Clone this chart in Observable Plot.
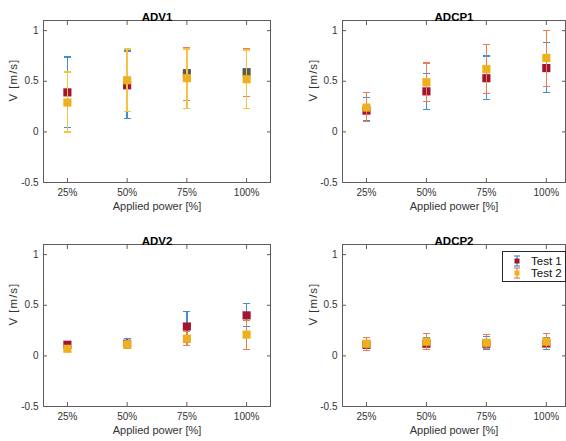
<!DOCTYPE html>
<html><head><meta charset="utf-8">
<script src="https://cdn.jsdelivr.net/npm/d3@7"></script>
<script src="https://cdn.jsdelivr.net/npm/@observablehq/plot@0.6"></script>
<style>
body{margin:0;background:#fff;font-family:"Liberation Sans",Arial,sans-serif;}
#wrap{position:relative;width:566px;height:441px;overflow:hidden;background:#fff;}
.panel{position:absolute;}
#legend{position:absolute;left:502px;top:251px;width:62px;height:29px;border:1px solid #262626;background:#fff;font:11.5px "Liberation Sans",Arial,sans-serif;color:#111;}
#legend .row{position:absolute;left:0;height:13px;display:flex;align-items:center;}
#legend svg{margin-left:10px;margin-right:10px;}
</style></head><body>
<div id="wrap"></div>
<script>
// ---------- data ----------
const power = [25, 50, 75, 100];
const powerLabels = ["25%", "50%", "75%", "100%"];
const yTicks = [-0.5, 0, 0.5, 1];
const yTickLabels = ["-0.5", "0", "0.5", "1"];
const seriesNames = ["Test 1", "Test 2"];

const adv1Test1 = [0.39, 0.46, 0.58, 0.59];
const adv1Test1Low = [0.04, 0.13, 0.31, 0.35];
const adv1Test1High = [0.74, 0.80, 0.83, 0.82];
const adv1Test2 = [0.29, 0.51, 0.53, 0.52];
const adv1Test2Low = [0.00, 0.20, 0.23, 0.23];
const adv1Test2High = [0.59, 0.82, 0.82, 0.81];

const adcp1Test1 = [0.21, 0.40, 0.53, 0.63];
const adcp1Test1Low = [0.11, 0.22, 0.32, 0.39];
const adcp1Test1High = [0.34, 0.58, 0.75, 0.88];
const adcp1Test2 = [0.24, 0.49, 0.62, 0.73];
const adcp1Test2Low = [0.10, 0.30, 0.38, 0.45];
const adcp1Test2High = [0.39, 0.68, 0.86, 1.00];

const adv2Test1 = [0.11, 0.12, 0.29, 0.40];
const adv2Test1Low = [0.08, 0.08, 0.13, 0.29];
const adv2Test1High = [0.14, 0.17, 0.44, 0.52];
const adv2Test2 = [0.07, 0.11, 0.17, 0.21];
const adv2Test2Low = [0.04, 0.07, 0.10, 0.06];
const adv2Test2High = [0.10, 0.15, 0.24, 0.35];

const adcp2Test1 = [0.11, 0.12, 0.12, 0.12];
const adcp2Test1Low = [0.07, 0.09, 0.06, 0.06];
const adcp2Test1High = [0.15, 0.18, 0.19, 0.18];
const adcp2Test2 = [0.12, 0.14, 0.13, 0.14];
const adcp2Test2Low = [0.05, 0.06, 0.07, 0.08];
const adcp2Test2High = [0.18, 0.22, 0.21, 0.22];

// ---------- styles ----------
const BLUE = "#3f8fd2", ORANGE = "#ea7d52", YELLOW_BAR = "#f6c245";
const RED = "#a2142f", YELLOW = "#edb120", GRAY = "#5a5a5a";
const defaultStyle = {
  bar1: () => BLUE, mark1: () => RED,
  bar2: () => ORANGE, mark2: () => YELLOW
};
const adv1Style = {
  bar1: i => i < 2 ? BLUE : ORANGE, mark1: i => i < 2 ? RED : GRAY,
  bar2: () => YELLOW_BAR, mark2: () => YELLOW
};

const panels = [
  {title: "ADV1", left: 0, top: 0, height: 220, mt: 20, mb: 38, ml: 43, mr: 13, xmax: 110, ylabDx: -30, style: adv1Style,
   s: [[adv1Test1, adv1Test1Low, adv1Test1High], [adv1Test2, adv1Test2Low, adv1Test2High]]},
  {title: "ADCP1", left: 283, top: 0, height: 220, mt: 20, mb: 38, ml: 59, mr: 1, xmax: 108, ylabDx: -29, style: defaultStyle,
   s: [[adcp1Test1, adcp1Test1Low, adcp1Test1High], [adcp1Test2, adcp1Test2Low, adcp1Test2High]]},
  {title: "ADV2", left: 0, top: 220, height: 221, mt: 24, mb: 35, ml: 43, mr: 13, xmax: 110, ylabDx: -30, style: defaultStyle,
   s: [[adv2Test1, adv2Test1Low, adv2Test1High], [adv2Test2, adv2Test2Low, adv2Test2High]]},
  {title: "ADCP2", left: 283, top: 220, height: 221, mt: 24, mb: 35, ml: 59, mr: 1, xmax: 108, ylabDx: -29, style: defaultStyle,
   s: [[adcp2Test1, adcp2Test1Low, adcp2Test1High], [adcp2Test2, adcp2Test2Low, adcp2Test2High]]}
];

const capSymbol = {draw(ctx, size) { const w = Math.sqrt(size / Math.PI); ctx.moveTo(-w, 0); ctx.lineTo(w, 0); }};
const AXIS = "#5c5c5c";

const wrap = document.getElementById("wrap");
for (const p of panels) {
  const marks = [];
  p.s.forEach((ser, k) => {
    const [vals, lows, highs] = ser;
    const rows = power.map((pw, i) => ({power: pw, v: vals[i], lo: lows[i], hi: highs[i], i}));
    const barC = k === 0 ? p.style.bar1 : p.style.bar2;
    const markC = k === 0 ? p.style.mark1 : p.style.mark2;
    marks.push(
      Plot.ruleX(rows, {x: "power", y1: "lo", y2: "hi", stroke: d => barC(d.i), strokeWidth: 1.5, shapeRendering: "crispEdges"}),
      Plot.dot(rows, {x: "power", y: "lo", symbol: capSymbol, r: 3.6, stroke: d => barC(d.i), strokeWidth: 1.3, fill: "none", shapeRendering: "crispEdges"}),
      Plot.dot(rows, {x: "power", y: "hi", symbol: capSymbol, r: 3.6, stroke: d => barC(d.i), strokeWidth: 1.3, fill: "none", shapeRendering: "crispEdges"}),
      Plot.dot(rows, {x: "power", y: "v", symbol: "square", r: 4.6, fill: d => markC(d.i), stroke: "none"})
    );
  });
  const chart = Plot.plot({
    width: 283, height: p.height,
    marginLeft: p.ml, marginRight: p.mr, marginTop: p.mt, marginBottom: p.mb,
    style: {fontFamily: "'Liberation Sans', Arial, sans-serif", fontSize: "10px", color: "#333", background: "transparent"},
    x: {domain: [15, p.xmax]},
    y: {domain: [-0.5, 1.1]},
    color: {type: "identity"},
    marks: [
      Plot.frame({stroke: AXIS, strokeWidth: 1}),
      Plot.axisX({anchor: "bottom", ticks: power, tickFormat: d => powerLabels[power.indexOf(d)], tickSize: -4, tickPadding: 10, label: null, stroke: AXIS}),
      Plot.axisX({anchor: "top", ticks: power, tickFormat: () => "", tickSize: -4, label: null, stroke: AXIS}),
      Plot.axisY({anchor: "left", ticks: yTicks, tickFormat: d => yTickLabels[yTicks.indexOf(d)], tickSize: -4, tickPadding: 9, label: null, stroke: AXIS}),
      Plot.axisY({anchor: "right", ticks: yTicks, tickFormat: () => "", tickSize: -4, label: null, stroke: AXIS}),
      Plot.text([p.title], {frameAnchor: "top", dy: -8, fontWeight: "bold", fontSize: 11.5, fill: "#000"}),
      Plot.text(["Applied power [%]"], {frameAnchor: "bottom", dy: 27, fontSize: 11, fill: "#333"}),
      Plot.text(["V [m/s]"], {frameAnchor: "left", dx: p.ylabDx, rotate: -90, fontSize: 11.5, fill: "#333", letterSpacing: "1px"}),
      ...marks
    ]
  });
  chart.classList.add("panel");
  chart.style.left = p.left + "px";
  chart.style.top = p.top + "px";
  chart.querySelectorAll("text").forEach(t => { if (t.textContent === "V [m/s]") t.style.letterSpacing = "1px"; });
  wrap.appendChild(chart);
}

// legend
const legend = document.createElement("div");
legend.id = "legend";
const legendColors = [[BLUE, RED], [ORANGE, YELLOW]];
seriesNames.forEach((name, k) => {
  const row = document.createElement("div");
  row.className = "row";
  row.style.top = (2 + k * 12.5) + "px";
  const [bc, mc] = legendColors[k];
  row.innerHTML = `<svg width="8" height="12"><line x1="4" x2="4" y1="1" y2="11" stroke="${bc}" stroke-width="1.2"/><line x1="1" x2="7" y1="1" y2="1" stroke="${bc}" stroke-width="1.2"/><line x1="1" x2="7" y1="11" y2="11" stroke="${bc}" stroke-width="1.2"/><rect x="1.5" y="3.5" width="5" height="5" fill="${mc}"/></svg><span>${name}</span>`;
  legend.appendChild(row);
});
wrap.appendChild(legend);
</script>
</body></html>
